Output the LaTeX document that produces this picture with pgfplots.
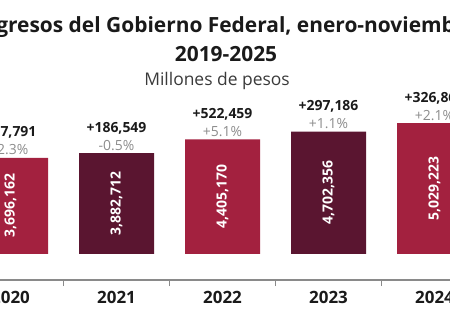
\documentclass[border=0pt]{standalone}
\usepackage{fontspec}
\setmainfont{Open Sans}
\usepackage{pgfplots}
\pgfplotsset{compat=1.18}
\usepackage{pgfplotstable}
\definecolor{guinda}{HTML}{A3213F}
\definecolor{vino}{HTML}{5A1530}
\definecolor{axisgray}{HTML}{8A8A8A}
\definecolor{pctgray}{HTML}{8C8C8C}
\definecolor{titleblack}{HTML}{1A1A1A}
\definecolor{subgray}{HTML}{3A3A3A}

\pgfplotstableread{
x v lbl chg pct
0 3696162 3,696,162 +37,791 -2.3
1 3882712 3,882,712 +186,549 -0.5
2 4405170 4,405,170 +522,459 +5.1
3 4702356 4,702,356 +297,186 +1.1
4 5029223 5,029,223 +326,867 +2.1
}\datatable

\pgfplotstableread{
x v
0 3696162
2 4405170
4 5029223
}\lighttable

\pgfplotstableread{
x v
1 3882712
3 4702356
}\darktable

\begin{document}
\begin{tikzpicture}
\useasboundingbox (0,0) rectangle (450bp,333bp);
\clip (0,0) rectangle (450bp,333bp);
% category axis (line, ticks, year labels)
\begin{axis}[
  at={(-148.5bp,53bp)}, anchor=south west,
  scale only axis, width=742bp, height=20bp,
  xmin=-1.5, xmax=5.5, ymin=0, ymax=1,
  axis x line=bottom, axis y line=none,
  axis line style={-, draw=axisgray, line width=1.3bp},
  xtick={0,1,2,3,4}, xticklabels={2020,2021,2022,2023,2024},
  minor xtick={-1.5,-0.5,0.5,1.5,2.5,3.5,4.5,5.5},
  major tick length=0pt, minor tick length=6bp, tick align=outside,
  every minor tick/.style={draw=axisgray, line width=1.3bp},
  xticklabel style={font=\bfseries\fontsize{17}{17}\selectfont, text=titleblack, yshift=-8bp},
  clip=false,
]
\end{axis}
% bars
\begin{axis}[
  at={(-148.5bp,79bp)}, anchor=south west,
  scale only axis, width=742bp, height=156bp,
  xmin=-1.5, xmax=5.5, ymin=0, ymax=6000000,
  hide axis,
  clip=false,
]
\addplot[ybar, bar width=75bp, fill=guinda, draw=none] table[x=x, y=v] {\lighttable};
\addplot[ybar, bar width=75bp, fill=vino, draw=none] table[x=x, y=v] {\darktable};
% values inside bars
\addplot[draw=none, mark=none, point meta=explicit symbolic,
  nodes near coords={\pgfplotspointmeta},
  every node near coord/.append style={rotate=90, anchor=center, text=white,
    font=\bfseries\fontsize{14}{14}\selectfont, inner sep=0pt}]
  table[x=x, y expr=\thisrow{v}/2, meta=lbl] {\datatable};
% nominal change
\addplot[draw=none, mark=none, point meta=explicit symbolic,
  nodes near coords={\pgfplotspointmeta},
  every node near coord/.append style={anchor=base, yshift=21bp, text=titleblack,
    font=\bfseries\fontsize{14}{14}\selectfont, inner sep=0pt}]
  table[x=x, y=v, meta=chg] {\datatable};
% real change
\addplot[draw=none, mark=none, point meta=explicit symbolic,
  nodes near coords={\pgfplotspointmeta\%},
  every node near coord/.append style={anchor=base, yshift=3bp, text=pctgray,
    font=\fontsize{14}{14}\selectfont, inner sep=0pt}]
  table[x=x, y=v, meta=pct] {\datatable};
\end{axis}
\node[font=\bfseries\fontsize{21}{24}\selectfont, text=titleblack, anchor=base] at (226bp,300bp) {Ingresos del Gobierno Federal, enero-noviembre};
\node[font=\bfseries\fontsize{21}{24}\selectfont, text=titleblack, anchor=base] at (226bp,271bp) {2019-2025};
\node[font=\fontsize{17.5}{20}\selectfont, text=subgray, anchor=base] at (217bp,247bp) {Millones de pesos};
\end{tikzpicture}
\end{document}
